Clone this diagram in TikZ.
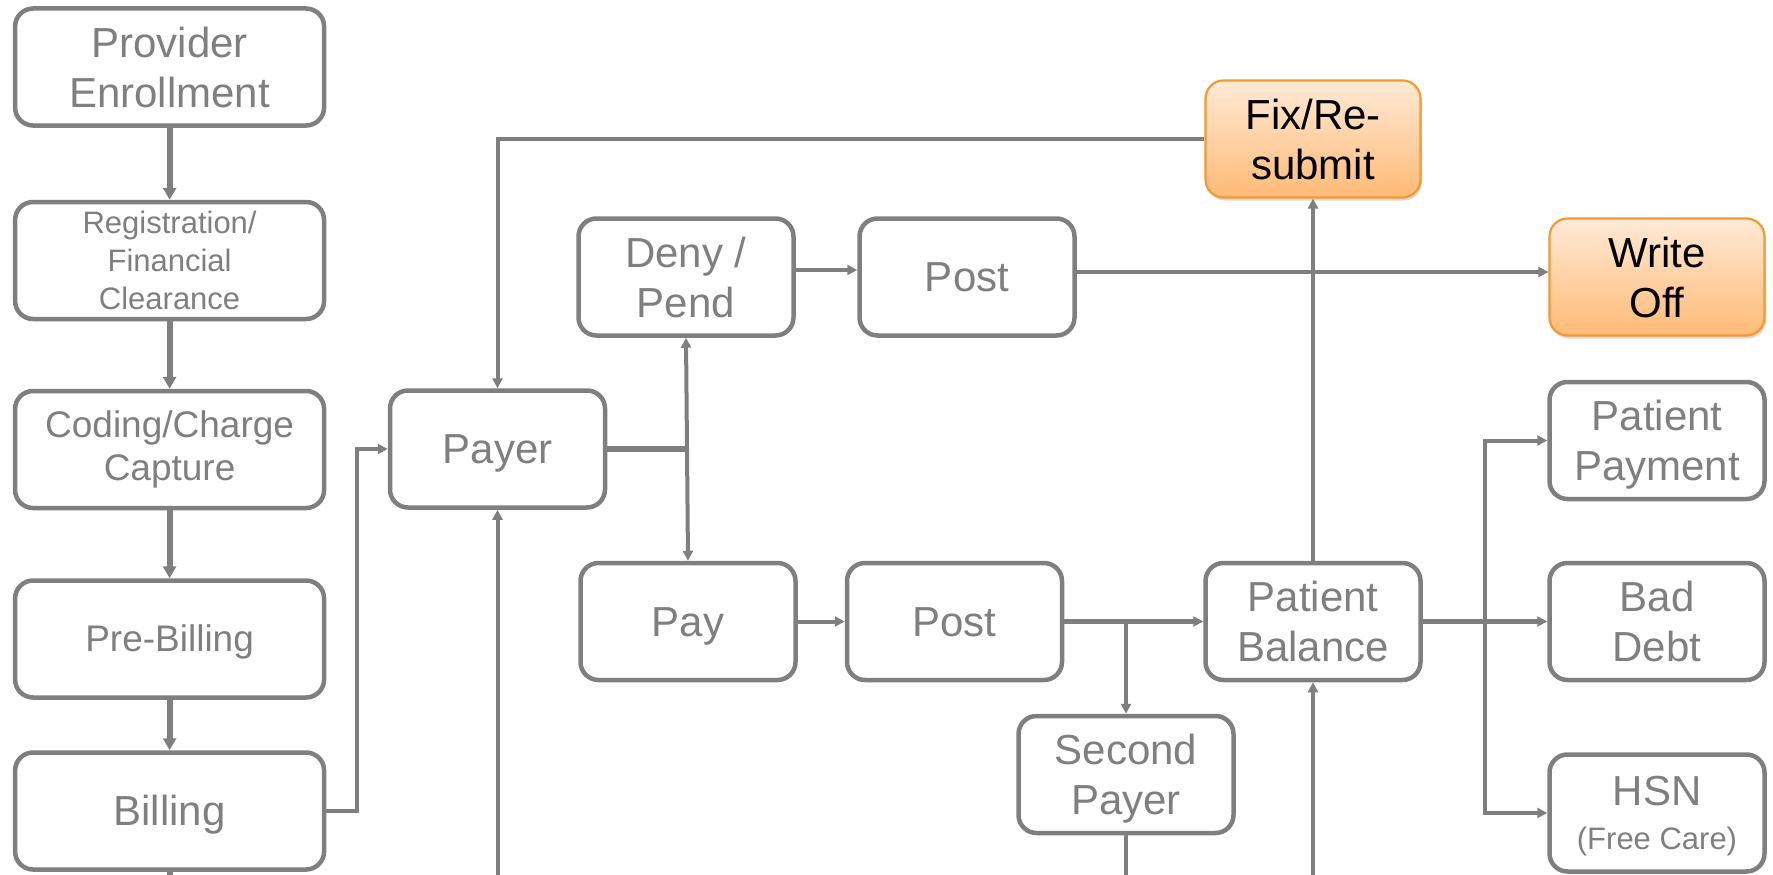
\documentclass[tikz,border=0pt]{standalone}
\usepackage{fontspec}
\setmainfont{Liberation Sans}
\usetikzlibrary{arrows.meta,shadows}
\definecolor{ln}{HTML}{7F7F7F}
\definecolor{orbd}{HTML}{F39A2E}
\definecolor{ortop}{HTML}{FFEAD6}
\definecolor{orbot}{HTML}{FFBA76}
% strut with the font's ascent and descent, so one-line labels centre on their line box
\newcommand\linestrut{\rule[-0.212em]{0pt}{1.117em}}
% last line of a label set without its descenders
\newcommand\nodepth[1]{\raisebox{0pt}[\height][0pt]{#1}}

\begin{document}
\begin{tikzpicture}[x=1pt,y=-1pt,
  box/.style={draw=ln, line width=4.5pt, rounded corners=18pt, text=ln,
    align=center, inner sep=0pt, minimum width=215pt, minimum height=117pt,
    font=\fontsize{42}{50}\selectfont},
  one/.style={execute at begin node=\linestrut},
  wide/.style={box, minimum width=309pt},
  hot/.style={box, draw=orbd, line width=2.2pt, top color=ortop, bottom color=orbot,
    text=black, drop shadow={shadow xshift=1.5pt, shadow yshift=-3pt, opacity=0.3}},
  conn/.style={draw=ln, line width=4pt},
  tip/.style={-{Triangle[length=10pt,width=10pt]}},
  bigtip/.style={-{Triangle[length=12pt,width=13pt]}},
]
\useasboundingbox (0,0) rectangle (1773,875);

% left column
\node[wide] (prov) at (169.6,67) {Provider\\Enrollment};
\node[wide, font=\fontsize{31}{38}\selectfont] (reg) at (169.6,260.5) {Registration/\\Financial\\Clearance};
\node[wide, font=\fontsize{37}{43}\selectfont] (cod) at (169.6,449.5) {Coding/Charge\\Capture};
\node[wide, one, font=\fontsize{37}{43}\selectfont] (pre) at (169.6,639) {Pre-Billing};
\node[wide, one] (bill) at (169.6,811) {Billing};

% claim handling
\node[box, one] (payer) at (497.5,449) {Payer};
\node[box] (deny) at (686,277) {Deny /\\Pend};
\node[box, one] (posta) at (967,277) {Post};
\node[hot] (fix) at (1313,139) {Fix/Re-\\submit};
\node[hot] (wo) at (1657,277) {Write\\Off};
\node[box, one] (pay) at (688,621.5) {Pay};
\node[box, one] (postb) at (954.5,621.5) {Post};
\node[box] (pb) at (1313,621.5) {Patient\\Balance};
\node[box] (sec) at (1126,774.5) {Second\\\nodepth{Payer}};

% patient balance outcomes
\node[box] (pp) at (1657,440.5) {Patient\\\nodepth{Payment}};
\node[box] (bd) at (1657,621.5) {Bad\\Debt};
\node[box] (hsn) at (1657,813) {HSN\\[-6pt]{\fontsize{31}{36}\selectfont\nodepth{(Free Care)}}};

% junction points and open ends
\coordinate (bj) at (357,811);
\coordinate (br) at (687,449);
\coordinate (sb) at (1126,621.5);
\coordinate (sp) at (1484.6,621.5);
\coordinate (billout) at (169.6,875);
\coordinate (payerin) at (497.5,875);
\coordinate (secout) at (1126,875);
\coordinate (pbin) at (1313,875);

% left column flow
\draw[conn, line width=6pt, bigtip] (prov) -- (reg);
\draw[conn, line width=6pt, bigtip] (reg) -- (cod);
\draw[conn, line width=6pt, bigtip] (cod) -- (pre);
\draw[conn, line width=6pt, bigtip] (pre) -- (bill);
\draw[conn, line width=6pt] (bill.south) -- (billout);

% into the payer
\draw[conn, tip] (bill.east) -- (bj) |- (payer.west);
\draw[conn, tip] (fix.west) -| (payer.north);
\draw[conn, tip] (payerin) -- (payer.south);

% payer decision
\draw[conn, line width=5.5pt] (payer.east) -- (br);
\draw[conn, tip] (br) -- (deny.south);
\draw[conn, tip] (br) -- (pay.north);

% denial path
\draw[conn, tip] ([yshift=7pt]deny.east) -- ([yshift=7pt]posta.west);
\draw[conn, line width=4.5pt, tip] ([yshift=5pt]posta.east) -- ([yshift=5pt]wo.west);
\draw[conn, tip] (pb.north) -- (fix.south);

% payment path
\draw[conn, tip] (pay) -- (postb);
\draw[conn, line width=5pt, tip] (postb) -- (pb);
\draw[conn, tip] (sb) -- (sec.north);
\draw[conn] (sec.south) -- (secout);
\draw[conn, tip] (pbin) -- (pb.south);

% patient balance outcomes
\draw[conn, line width=4.5pt, tip] (pb) -- (bd);
\draw[conn, tip] (sp) |- (pp.west);
\draw[conn, tip] (sp) |- (hsn.west);
\end{tikzpicture}
\end{document}
